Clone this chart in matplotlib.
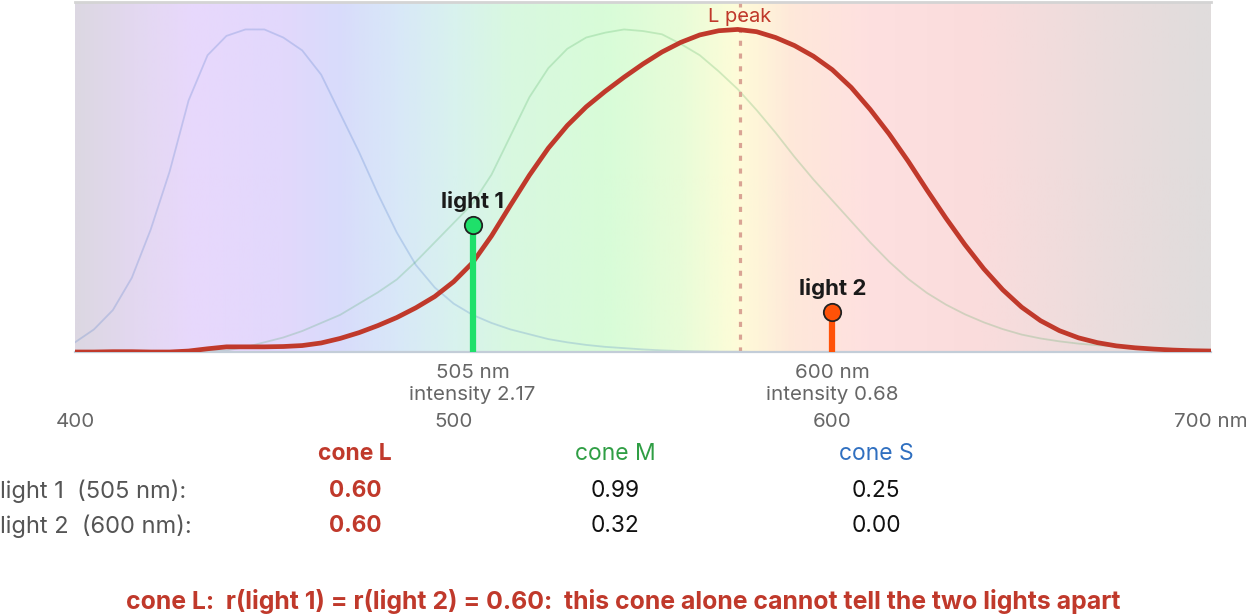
import numpy as np
import matplotlib
matplotlib.use("Agg")
from matplotlib import pyplot as plt
from matplotlib.colors import LinearSegmentedColormap

plt.rcParams['font.family'] = ['Inter', 'DejaVu Sans']

# wavelength grid (nm) and cone sensitivities
wl = np.arange(400, 701, 5)
cone_s = [0.03, 0.07, 0.13, 0.23, 0.38, 0.56, 0.78, 0.92, 0.98, 1.00,
          1.00, 0.975, 0.935, 0.86, 0.74, 0.62, 0.49, 0.37, 0.27, 0.20,
          0.15, 0.115, 0.09, 0.07, 0.055, 0.04, 0.03, 0.022, 0.016, 0.012,
          0.008, 0.005, 0.003, 0.002, 0.001, 0.001, 0.0, 0.0, 0.0, 0.0,
          0.0, 0.0, 0.0, 0.0, 0.0, 0.0, 0.0, 0.0, 0.0, 0.0,
          0.0, 0.0, 0.0, 0.0, 0.0, 0.0, 0.0, 0.0, 0.0, 0.0, 0.0]
cone_m = [0.0, 0.0, 0.0, 0.0, 0.0, 0.001, 0.002, 0.003, 0.005, 0.015,
          0.03, 0.045, 0.065, 0.09, 0.115, 0.15, 0.185, 0.225, 0.28, 0.34,
          0.40, 0.46, 0.55, 0.67, 0.79, 0.88, 0.94, 0.975, 0.99, 1.00,
          0.995, 0.985, 0.955, 0.92, 0.87, 0.815, 0.75, 0.68, 0.605, 0.535,
          0.47, 0.405, 0.34, 0.28, 0.227, 0.183, 0.147, 0.117, 0.092, 0.071,
          0.054, 0.042, 0.033, 0.026, 0.021, 0.017, 0.013, 0.01, 0.008, 0.006, 0.005]
cone_l = [0.0, 0.0, 0.001, 0.001, 0.0, 0.0, 0.003, 0.01, 0.016, 0.016,
          0.016, 0.017, 0.02, 0.028, 0.042, 0.06, 0.082, 0.107, 0.137, 0.172,
          0.218, 0.277, 0.36, 0.455, 0.548, 0.632, 0.702, 0.76, 0.808, 0.852,
          0.893, 0.93, 0.96, 0.983, 0.996, 1.00, 0.993, 0.975, 0.95, 0.917,
          0.875, 0.82, 0.752, 0.676, 0.592, 0.502, 0.415, 0.333, 0.258, 0.193,
          0.139, 0.097, 0.066, 0.044, 0.029, 0.019, 0.013, 0.009, 0.006, 0.004, 0.003]

l_peak_nm = 575.5

# the two lights
light_names = ['light 1', 'light 2']
light_nm = [505, 600]
light_intensity = [2.17, 0.68]
light_colors = ['#1fe06a', '#ff5208']

# table of cone responses
cone_names = ['cone L', 'cone M', 'cone S']
cone_colors = ['#c0392b', '#2f9e44', '#2f6fc0']
resp_light1 = [0.60, 0.99, 0.25]
resp_light2 = [0.60, 0.32, 0.00]

tick_nm = [400, 500, 600, 700]
tick_labels = ['400', '500', '600', '700 nm']

red = '#c0392b'
grey = '#666666'
stem_scale = 0.181
ytop = 1.085

fig = plt.figure(figsize=(12.46, 6.14), dpi=100)
ax = fig.add_axes([0.0602, 0.4267, 0.9117, 0.57])

# spectrum background
stops = [(400, '#dcd7e2'), (415, '#e3d8f0'), (430, '#e8d8fc'), (455, '#e2d8fc'),
         (470, '#d8dcfb'), (485, '#d8e8f8'), (500, '#d8f2ee'), (515, '#d8f8e0'),
         (540, '#d8fcd8'), (560, '#e8fcd8'), (575, '#fefcd8'), (590, '#fee8da'),
         (610, '#fee0e0'), (640, '#fadcdc'), (670, '#ecdcdc'), (700, '#e0dcdc')]
cmap = LinearSegmentedColormap.from_list(
    'spec', [((w - 400) / 300, c) for w, c in stops])
ax.imshow(np.linspace(0, 1, 600)[None, :], cmap=cmap, aspect='auto',
          extent=[400, 700, 0, ytop], zorder=0)

# cone curves
ax.plot(wl, cone_s, color='#3d6fc4', alpha=0.22, lw=1.3, zorder=2)
ax.plot(wl, cone_m, color='#2f9e44', alpha=0.2, lw=1.3, zorder=2)
ax.axvline(l_peak_nm, color='#d9a494', lw=2.3, ls=(0, (1.6, 2.4)), zorder=2)
ax.plot(wl, cone_l, color=red, lw=3.4, zorder=3, solid_joinstyle='round')
ax.text(l_peak_nm, 0.957, 'L peak', transform=ax.get_xaxis_transform(),
        ha='center', va='center', color=red, fontsize=14.5, zorder=4)

# lights as stems
for name, nm, inten, col in zip(light_names, light_nm, light_intensity, light_colors):
    h = inten * stem_scale
    ax.plot([nm, nm], [0, h], color=col, lw=4.5, zorder=4, solid_capstyle='butt')
    ax.plot([nm], [h], 'o', ms=12.5, mfc=col, mec='#222222', mew=1.3, zorder=5)
    ax.annotate(name, (nm, h), xytext=(0, 17), textcoords='offset points',
                ha='center', va='center', fontsize=16, fontweight='bold',
                color='#1a1a1a', zorder=6)
    ax.text(nm, -0.06, f'{nm} nm', transform=ax.get_xaxis_transform(),
            ha='center', va='center', color=grey, fontsize=14.8)
    ax.text(nm, -0.124, f'intensity {inten:.2f}', transform=ax.get_xaxis_transform(),
            ha='center', va='center', color=grey, fontsize=14.8)

ax.set_xlim(400, 700)
ax.set_ylim(0, ytop)
ax.set_xticks(tick_nm, tick_labels)
ax.tick_params(axis='x', length=0, pad=44, labelsize=14.8, labelcolor=grey)
ax.set_yticks([])
for s in ['left', 'right']:
    ax.spines[s].set_visible(False)
ax.spines['top'].set_color('#d4d4d4')
ax.spines['top'].set_linewidth(2)
ax.spines['bottom'].set_color('#c3cdd8')
ax.spines['bottom'].set_linewidth(1.6)

# response table
col_x = [0.285, 0.4936, 0.703]
for x, name, col in zip(col_x, cone_names, cone_colors):
    fig.text(x, 1 - 454 / 614, name, ha='center', va='center', color=col,
             fontsize=16.5, fontweight='bold' if name == 'cone L' else 'normal')
for row_y, nm, resp, lbl in zip([491, 526], light_nm, [resp_light1, resp_light2], light_names):
    fig.text(0.0, 1 - row_y / 614, f'{lbl}  ({nm} nm):', ha='left', va='center',
             color='#555555', fontsize=17)
    for i, (x, v) in enumerate(zip(col_x, resp)):
        fig.text(x, 1 - row_y / 614, f'{v:.2f}', ha='center', va='center',
                 color=red if i == 0 else '#111111', fontsize=16.3,
                 fontweight='bold' if i == 0 else 'normal')

fig.text(0.5, 1 - 602 / 614,
         f'cone L:  r(light 1) = r(light 2) = {resp_light1[0]:.2f}:  '
         'this cone alone cannot tell the two lights apart',
         ha='center', va='center', color=red, fontsize=17.9, fontweight='bold')

fig.savefig('out.png', dpi=100)
